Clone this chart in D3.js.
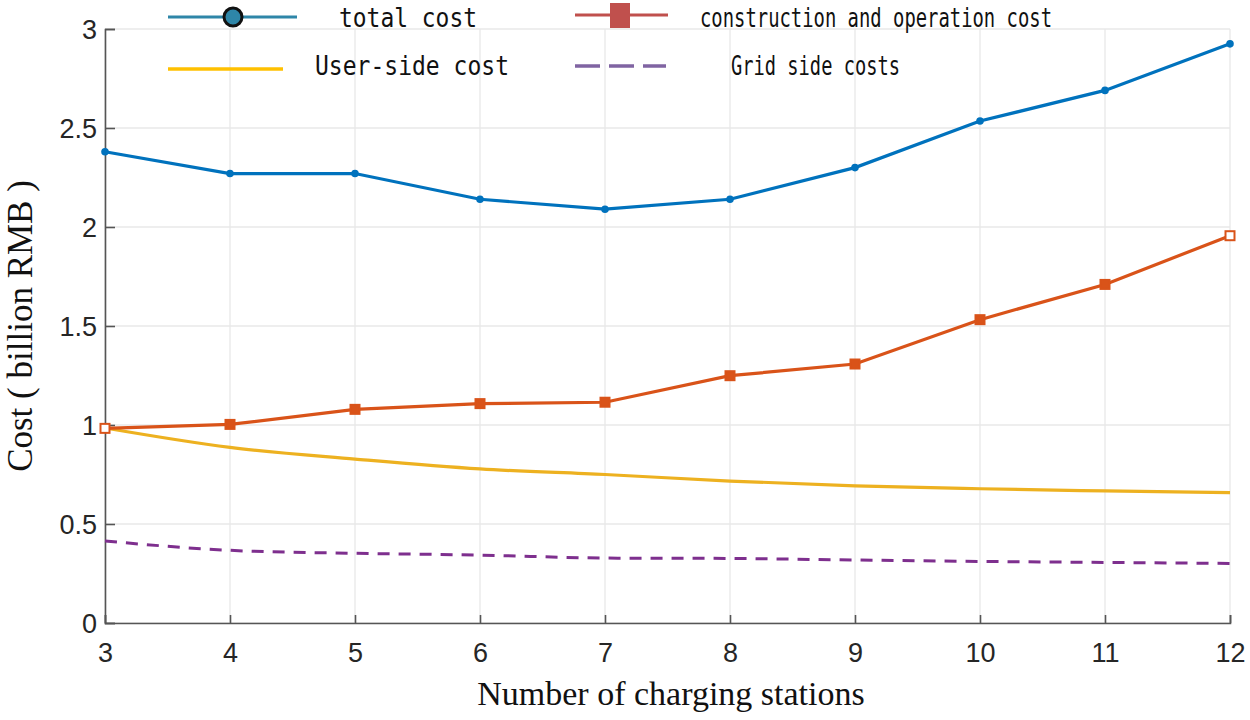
<!DOCTYPE html>
<html><head><meta charset="utf-8">
<script src="https://cdn.jsdelivr.net/npm/d3@7/dist/d3.min.js"></script>
<style>html,body{margin:0;padding:0;background:#fff;}</style>
</head><body>
<svg id="c" width="1250" height="720"></svg>
<script>
const stations = [3,4,5,6,7,8,9,10,11,12];
const totalCost = [2.38,2.27,2.27,2.14,2.09,2.14,2.30,2.535,2.69,2.925];
const constructionCost = [0.983,1.003,1.079,1.108,1.115,1.249,1.308,1.532,1.71,1.956];
const userSideCost = [0.985,0.887,0.828,0.778,0.75,0.717,0.693,0.678,0.667,0.658];
const gridSideCost = [0.414,0.367,0.352,0.343,0.328,0.326,0.318,0.311,0.306,0.301];
const yTicks = [0,0.5,1,1.5,2,2.5,3];
const yTickLabels = ["0","0.5","1","1.5","2","2.5","3"];
const legendLabels = ["total cost","construction and operation cost","User-side cost","Grid side costs"];

const svg = d3.select("#c");
const x = d3.scaleLinear().domain([3,12]).range([105,1230]);
const y = d3.scaleLinear().domain([0,3]).range([623,29]);

// grid
const g = svg.append("g");
g.selectAll("line.vg").data(stations).enter().append("line")
  .attr("x1",d=>x(d)).attr("x2",d=>x(d)).attr("y1",y(0)).attr("y2",y(3))
  .attr("stroke","#e8e8e8").attr("stroke-width",1.3);
g.selectAll("line.hg").data(yTicks).enter().append("line")
  .attr("x1",x(3)).attr("x2",x(12)).attr("y1",d=>y(d)).attr("y2",d=>y(d))
  .attr("stroke","#e8e8e8").attr("stroke-width",1.3);

// axes
const xAxis = d3.axisBottom(x).tickValues(stations).tickSize(-8).tickPadding(20).tickFormat(d3.format("d"));
const yAxis = d3.axisLeft(y).tickValues(yTicks).tickSize(-10).tickPadding(8).tickFormat((d,i)=>yTickLabels[i]);
const gx = svg.append("g").attr("transform",`translate(0,${y(0)})`).call(xAxis);
const gy = svg.append("g").attr("transform",`translate(${x(3)},0)`).call(yAxis);
[gx,gy].forEach(a=>{
  a.select(".domain").attr("stroke","#555").attr("stroke-width",1.6);
  a.selectAll(".tick line").attr("stroke","#555").attr("stroke-width",1.6);
  a.selectAll(".tick text").attr("fill","#262626").style("font-family","'Liberation Sans',Arial,sans-serif").style("font-size","27px");
});
gy.selectAll(".tick text").attr("dy","0.36em");

// axis titles
svg.append("text").attr("x",671).attr("y",705).attr("text-anchor","middle")
  .style("font-family","'Liberation Serif','Times New Roman',serif").style("font-size","34px").attr("fill","#111")
  .text("Number of charging stations");
svg.append("text").attr("transform","translate(32,326) rotate(-90)").attr("text-anchor","middle")
  .style("font-family","'Liberation Serif','Times New Roman',serif").style("font-size","35px").attr("fill","#111")
  .text("Cost ( billion RMB )");

// lines
const mk = (arr,curve)=>d3.line().x((d,i)=>x(stations[i])).y(d=>y(d)).curve(curve||d3.curveLinear)(arr);
svg.append("path").attr("d",mk(gridSideCost,d3.curveMonotoneX)).attr("fill","none")
  .attr("stroke","#7E2F8E").attr("stroke-width",3).attr("stroke-dasharray","12,9");
svg.append("path").attr("d",mk(userSideCost,d3.curveMonotoneX)).attr("fill","none")
  .attr("stroke","#EDB120").attr("stroke-width",3.2);
svg.append("path").attr("d",mk(constructionCost)).attr("fill","none")
  .attr("stroke","#D95319").attr("stroke-width",3.2);
svg.selectAll("rect.cm").data(constructionCost).enter().append("rect")
  .attr("x",(d,i)=>x(stations[i])-4.5).attr("y",d=>y(d)-4.5).attr("width",9).attr("height",9)
  .attr("fill",(d,i)=>(i===0||i===constructionCost.length-1)?"#fff":"#D95319")
  .attr("stroke","#D95319").attr("stroke-width",2);
svg.append("path").attr("d",mk(totalCost)).attr("fill","none")
  .attr("stroke","#0072BD").attr("stroke-width",3.2);
svg.selectAll("circle.tm").data(totalCost).enter().append("circle")
  .attr("cx",(d,i)=>x(stations[i])).attr("cy",d=>y(d)).attr("r",3.8).attr("fill","#0072BD");

// legend
const lf = "'DejaVu Sans Mono','Liberation Mono',monospace";
const L = svg.append("g");
L.append("line").attr("x1",168).attr("x2",297).attr("y1",17).attr("y2",17).attr("stroke","#2E86A8").attr("stroke-width",3);
L.append("circle").attr("cx",233).attr("cy",17).attr("r",9).attr("fill","#2E86A8").attr("stroke","#111").attr("stroke-width",3);
L.append("line").attr("x1",575).attr("x2",668).attr("y1",15).attr("y2",15).attr("stroke","#C0504D").attr("stroke-width",3);
L.append("rect").attr("x",610).attr("y",3).attr("width",20).attr("height",25).attr("fill","#C0504D");
L.append("line").attr("x1",168).attr("x2",283).attr("y1",69).attr("y2",69).attr("stroke","#FFC000").attr("stroke-width",3.5);
L.append("line").attr("x1",575).attr("x2",666).attr("y1",66).attr("y2",66).attr("stroke","#8064A2").attr("stroke-width",3.5).attr("stroke-dasharray","25,9");
const lt = [[339,27,138],[700,27,352],[315,75,194],[731,75,169]];
lt.forEach((p,i)=>{
  L.append("text").attr("x",p[0]).attr("y",p[1])
   .attr("textLength",p[2]).attr("lengthAdjust","spacingAndGlyphs")
   .style("font-family",lf).style("font-size","26px").attr("fill","#111").text(legendLabels[i]);
});
</script>
</body></html>
